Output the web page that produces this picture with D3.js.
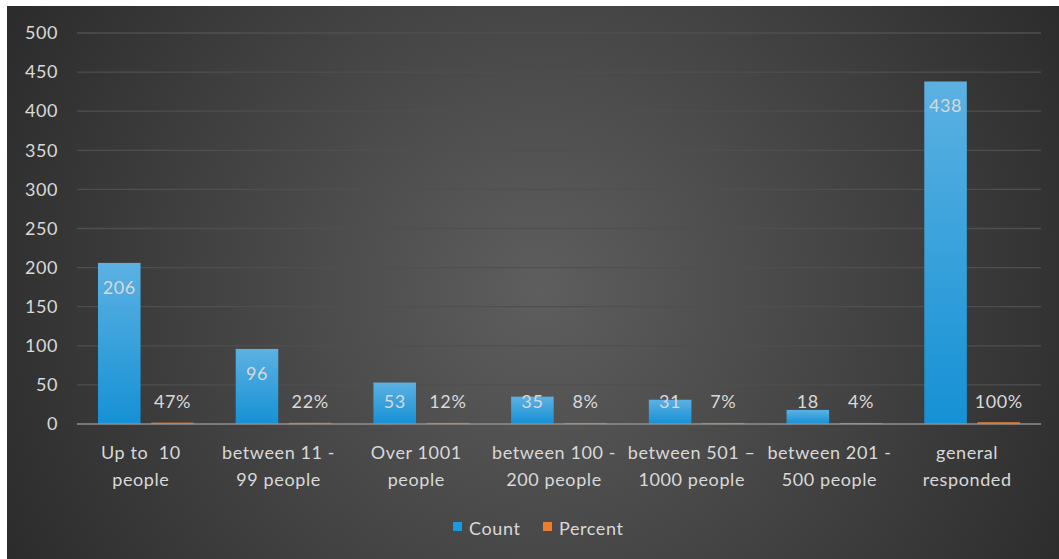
<!DOCTYPE html>
<html>
<head>
<meta charset="utf-8">
<script src="https://cdn.jsdelivr.net/npm/d3@7"></script>
<style>
  body { margin: 0; background: #fff; }
  svg text { font-family: Lato, "Open Sans", sans-serif; fill: #d9d9d9; white-space: pre; letter-spacing: 0.6px; }
</style>
</head>
<body>
<div id="chart"></div>
<script>
var categories = [
  ["Up to  10", "people"],
  ["between 11 -", "99 people"],
  ["Over 1001", "people"],
  ["between 100 -", "200 people"],
  ["between 501 \u2013", "1000 people"],
  ["between 201 -", "500 people"],
  ["general", "responded"]
];
var counts = [206, 96, 53, 35, 31, 18, 438];
var percents = [0.47, 0.22, 0.12, 0.08, 0.07, 0.04, 1.00];
var yTicks = [0, 50, 100, 150, 200, 250, 300, 350, 400, 450, 500];
var seriesNames = ["Count", "Percent"];

var width = 1059, height = 559;
var plotLeft = 77, plotRight = 1041, plotTop = 33, plotBottom = 424;

var svg = d3.select("#chart").append("svg")
  .attr("width", width)
  .attr("height", height);

var defs = svg.append("defs");
var bg = defs.append("radialGradient")
  .attr("id", "bg")
  .attr("gradientUnits", "userSpaceOnUse")
  .attr("cx", 540).attr("cy", 290).attr("r", 640);
bg.append("stop").attr("offset", "0%").attr("stop-color", "#5e5e5e");
bg.append("stop").attr("offset", "100%").attr("stop-color", "#282828");

var barGrad = defs.append("linearGradient")
  .attr("id", "barGrad")
  .attr("x1", 0).attr("y1", 0).attr("x2", 0).attr("y2", 1);
barGrad.append("stop").attr("offset", "0%").attr("stop-color", "#5cb1e2");
barGrad.append("stop").attr("offset", "100%").attr("stop-color", "#1591d5");

svg.append("rect")
  .attr("x", 7).attr("y", 6)
  .attr("width", width - 7).attr("height", height - 6)
  .attr("fill", "url(#bg)");

var x = d3.scaleBand()
  .domain(d3.range(categories.length))
  .range([plotLeft, plotRight]);

var inner = d3.scaleBand()
  .domain(seriesNames)
  .range([21, x.bandwidth() - 21])
  .paddingInner(0.2);

var y = d3.scaleLinear()
  .domain([0, 500])
  .range([plotBottom, plotTop]);

// grid lines
svg.append("g")
  .selectAll("line")
  .data(yTicks.slice(1))
  .enter().append("line")
    .attr("x1", plotLeft).attr("x2", plotRight)
    .attr("y1", d => y(d)).attr("y2", d => y(d))
    .attr("stroke", "#4f4f4f")
    .attr("stroke-width", 1.3);

// y axis labels
var yAxis = svg.append("g")
  .attr("transform", "translate(" + plotLeft + ",0)")
  .call(d3.axisLeft(y).tickValues(yTicks).tickSize(0).tickPadding(19));
yAxis.select(".domain").remove();
yAxis.selectAll("text")
  .style("font-size", "18px")
  .style("font-family", "Lato, 'Open Sans', sans-serif")
  .attr("fill", "#d9d9d9");

// count bars
svg.append("g")
  .selectAll("rect")
  .data(counts)
  .enter().append("rect")
    .attr("x", (d, i) => x(i) + inner("Count"))
    .attr("y", d => y(d))
    .attr("width", inner.bandwidth())
    .attr("height", d => y(0) - y(d))
    .attr("fill", "url(#barGrad)");

// percent bars (tiny, values are fractions)
svg.append("g")
  .selectAll("rect")
  .data(percents)
  .enter().append("rect")
    .attr("x", (d, i) => x(i) + inner("Percent"))
    .attr("y", d => y(d) - 1)
    .attr("width", inner.bandwidth())
    .attr("height", d => y(0) - y(d) + 1)
    .attr("fill", "#ed7d31");

// baseline
svg.append("line")
  .attr("x1", plotLeft).attr("x2", plotRight)
  .attr("y1", y(0)).attr("y2", y(0))
  .attr("stroke", "#8f8f8f")
  .attr("stroke-width", 1.5);

// data labels
svg.append("g")
  .selectAll("text")
  .data(counts)
  .enter().append("text")
    .attr("x", (d, i) => x(i) + inner("Count") + inner.bandwidth() / 2)
    .attr("y", d => Math.min(y(d) + 31, 408))
    .attr("text-anchor", "middle")
    .style("font-size", "18px")
    .text(d => d);

svg.append("g")
  .selectAll("text")
  .data(percents)
  .enter().append("text")
    .attr("x", (d, i) => x(i) + inner("Percent") + inner.bandwidth() / 2)
    .attr("y", d => Math.min(y(d) + 31, 408))
    .attr("text-anchor", "middle")
    .style("font-size", "18px")
    .text(d => Math.round(d * 100) + "%");

// category labels
var cat = svg.append("g")
  .selectAll("text")
  .data(categories)
  .enter().append("text")
    .attr("text-anchor", "middle")
    .style("font-size", "18px")
    .attr("transform", (d, i) => "translate(" + (x(i) + x.bandwidth() / 2 - 5) + ",459)");
cat.selectAll("tspan")
  .data(d => d)
  .enter().append("tspan")
    .attr("x", 0)
    .attr("dy", (d, i) => i === 0 ? 0 : 27)
    .text(d => d);

// legend
var legend = svg.append("g").attr("transform", "translate(453,529)");
var items = [
  { name: seriesNames[0], color: "#1a9ae0", x: 0 },
  { name: seriesNames[1], color: "#ed7d31", x: 90 }
];
var li = legend.selectAll("g").data(items).enter().append("g")
  .attr("transform", d => "translate(" + d.x + ",0)");
li.append("rect")
  .attr("x", 0).attr("y", -7)
  .attr("width", 9).attr("height", 9)
  .attr("fill", d => d.color);
li.append("text")
  .attr("x", 16).attr("y", 6)
  .style("font-size", "18px")
  .text(d => d.name);
</script>
</body>
</html>
